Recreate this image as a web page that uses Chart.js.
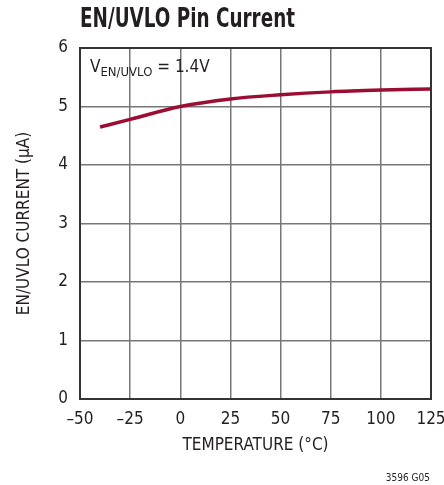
<!DOCTYPE html>
<html><head><meta charset="utf-8">
<script src="https://cdn.jsdelivr.net/npm/chart.js@4/dist/chart.umd.min.js"></script>
<style>html,body{margin:0;padding:0;background:#fff}#wrap{width:444px;height:485px}</style>
</head><body><div id="wrap"><canvas id="c" width="444" height="485"></canvas></div>
<script>
const temperatures = [-40, -25, 0, 25, 50, 75, 100, 125];
const currents = [4.65, 4.78, 5.0, 5.13, 5.2, 5.25, 5.28, 5.30];
const xTicks = [-50, -25, 0, 25, 50, 75, 100, 125];
const xTickLabels = ['\u201350', '\u201325', '0', '25', '50', '75', '100', '125'];
const yTickLabels = ['0', '1', '2', '3', '4', '5', '6'];
const chartTitle = 'EN/UVLO Pin Current';
const xTitle = 'TEMPERATURE (\u00B0C)';
const yTitle = 'EN/UVLO CURRENT (\u00B5A)';
const footnote = '3596 G05';

const FONT = '"DejaVu Sans Condensed", "Liberation Sans", Arial, sans-serif';

function fitText(ctx, text, x, y, width) {
  const w = ctx.measureText(text).width;
  ctx.save();
  ctx.translate(x, y);
  ctx.scale(width / w, 1);
  ctx.fillText(text, 0, 0);
  ctx.restore();
}

const decor = {
  id: 'decor',
  afterDraw(chart) {
    const ctx = chart.ctx, a = chart.chartArea;
    ctx.save();
    ctx.fillStyle = '#231f20';
    ctx.textBaseline = 'alphabetic';
    ctx.textAlign = 'left';
    ctx.font = 'bold 27px ' + FONT;
    fitText(ctx, chartTitle, 80, 27, 215);
    // annotation
    ctx.font = '17px ' + FONT;
    let x = 90;
    ctx.fillText('V', x, 72);
    x += ctx.measureText('V').width;
    ctx.font = '13px ' + FONT;
    ctx.fillText('EN/UVLO', x, 76);
    x += ctx.measureText('EN/UVLO').width;
    ctx.font = '17px ' + FONT;
    ctx.fillText(' = 1.4V', x, 72);
    // footnote
    ctx.font = '10px ' + FONT;
    ctx.textAlign = 'right';
    ctx.fillText(footnote, 430, 481);
    // border
    ctx.strokeStyle = '#333';
    ctx.lineWidth = 2;
    ctx.strokeRect(a.left, a.top, a.right - a.left, a.bottom - a.top);
    ctx.restore();
  }
};

new Chart(document.getElementById('c'), {
  type: 'line',
  data: {
    datasets: [{
      data: temperatures.map((t, i) => ({x: t, y: currents[i]})),
      borderColor: '#9b0d33',
      borderWidth: 3.5,
      pointRadius: 0,
      cubicInterpolationMode: 'monotone',
      fill: false
    }]
  },
  options: {
    responsive: false,
    animation: false,
    devicePixelRatio: 1,
    layout: {padding: {top: 48, right: 13, left: 0, bottom: 0}},
    plugins: {legend: {display: false}, tooltip: {enabled: false}, title: {display: false}},
    scales: {
      x: {
        type: 'linear', min: -50, max: 125,
        afterBuildTicks: s => { s.ticks = xTicks.map(v => ({value: v})); },
        afterFit: s => { s.height = 86; s.paddingLeft = 0; s.paddingRight = 0; },
        grid: {color: '#777', lineWidth: 1.5, drawTicks: false},
        border: {display: false},
        ticks: {
          padding: 10, color: '#231f20', font: {family: FONT, size: 17},
          maxRotation: 0, autoSkip: false,
          callback: v => xTickLabels[xTicks.indexOf(v)]
        },
        title: {display: true, text: xTitle, color: '#231f20', font: {family: FONT, size: 17}, padding: {top: 8, bottom: 29}}
      },
      y: {
        min: 0, max: 6,
        afterBuildTicks: s => { s.ticks = yTickLabels.map(v => ({value: +v})); },
        afterFit: s => { s.width = 80; s.paddingTop = 0; s.paddingBottom = 0; },
        grid: {color: '#777', lineWidth: 1.5, drawTicks: false},
        border: {display: false},
        ticks: {
          padding: 12, color: '#231f20', font: {family: FONT, size: 17},
          callback: v => yTickLabels[v]
        },
        title: {display: true, text: yTitle, color: '#231f20', font: {family: FONT, size: 17}, padding: {top: 14, bottom: 4}}
      }
    }
  },
  plugins: [decor]
});
</script></body></html>
